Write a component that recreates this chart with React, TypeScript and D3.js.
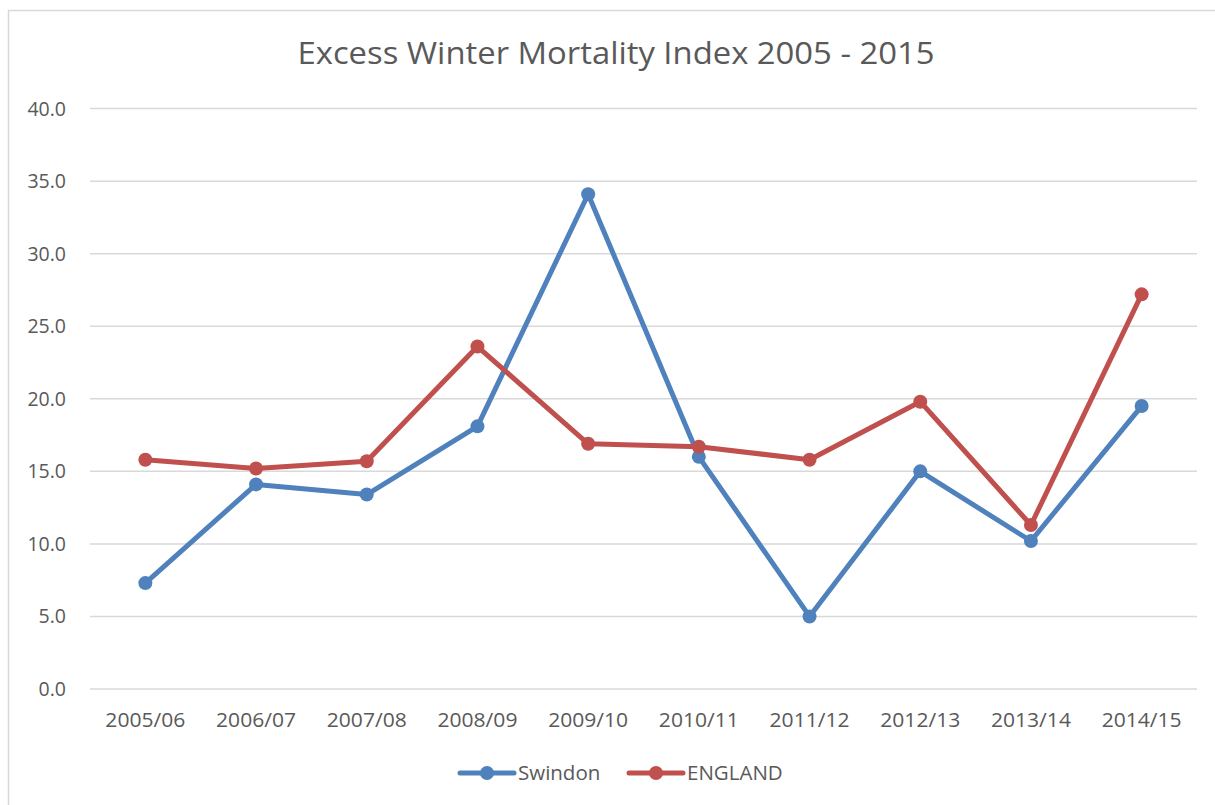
import React from "react";
import * as d3 from "d3";

const categories = ["2005/06", "2006/07", "2007/08", "2008/09", "2009/10", "2010/11", "2011/12", "2012/13", "2013/14", "2014/15"];
const swindon = [7.3, 14.1, 13.4, 18.1, 34.1, 16.0, 5.0, 15.0, 10.2, 19.5];
const england = [15.8, 15.2, 15.7, 23.6, 16.9, 16.7, 15.8, 19.8, 11.3, 27.2];
const yTicks = [0, 5, 10, 15, 20, 25, 30, 35, 40];
const seriesNames = ["Swindon", "ENGLAND"];
const colors = ["#4F81BD", "#C0504D"];

const W = 1215, H = 805;
const left = 90, right = 1197, top = 108.6, bottom = 689;
const font = "'Open Sans', 'Liberation Sans', sans-serif";

export default function App() {
  const x = d3.scaleBand<string>().domain(categories).range([left, right]);
  const y = d3.scaleLinear().domain([0, 40]).range([bottom, top]);
  const cx = (c: string) => (x(c) as number) + x.bandwidth() / 2;
  const line = d3.line<number>().x((_, i) => cx(categories[i])).y((d) => y(d));
  const series = [swindon, england];
  return (
    <svg width={W} height={H} style={{ position: "absolute", left: 0, top: 0 }}>
      <rect x={0} y={0} width={W} height={H} fill="#fff" />
      <rect x={8.5} y={10.5} width={W + 10} height={H + 10} fill="#fff" stroke="#D9D9D9" strokeWidth={1.5} />
      <text x={616} y={64} textAnchor="middle" fontFamily={font} fontSize={31} fill="#595959" textLength={637} lengthAdjust="spacingAndGlyphs">
        Excess Winter Mortality Index 2005 - 2015
      </text>
      {yTicks.map((t) => (
        <g key={t}>
          <line x1={left} x2={right} y1={y(t)} y2={y(t)} stroke="#D9D9D9" strokeWidth={1.5} />
          <text x={66} y={y(t) + 7} textAnchor="end" fontFamily={font} fontSize={19.5} fill="#595959">
            {t.toFixed(1)}
          </text>
        </g>
      ))}
      {categories.map((c) => (
        <text key={c} x={cx(c)} y={727} textAnchor="middle" fontFamily={font} fontSize={20.5} fill="#595959" textLength={80} lengthAdjust="spacingAndGlyphs">
          {c}
        </text>
      ))}
      {series.map((s, si) => (
        <g key={si}>
          <path d={line(s) || ""} fill="none" stroke={colors[si]} strokeWidth={5} strokeLinejoin="round" strokeLinecap="round" />
          {s.map((v, i) => (
            <circle key={i} cx={cx(categories[i])} cy={y(v)} r={7} fill={colors[si]} />
          ))}
        </g>
      ))}
      {seriesNames.map((n, i) => {
        const lx = i === 0 ? 460 : 629;
        return (
          <g key={n}>
            <line x1={lx} x2={lx + 54} y1={773} y2={773} stroke={colors[i]} strokeWidth={5} strokeLinecap="round" />
            <circle cx={lx + 27} cy={773} r={7} fill={colors[i]} />
            <text x={lx + 58} y={780} fontFamily={font} fontSize={20.5} fill="#595959">
              {n}
            </text>
          </g>
        );
      })}
    </svg>
  );
}
